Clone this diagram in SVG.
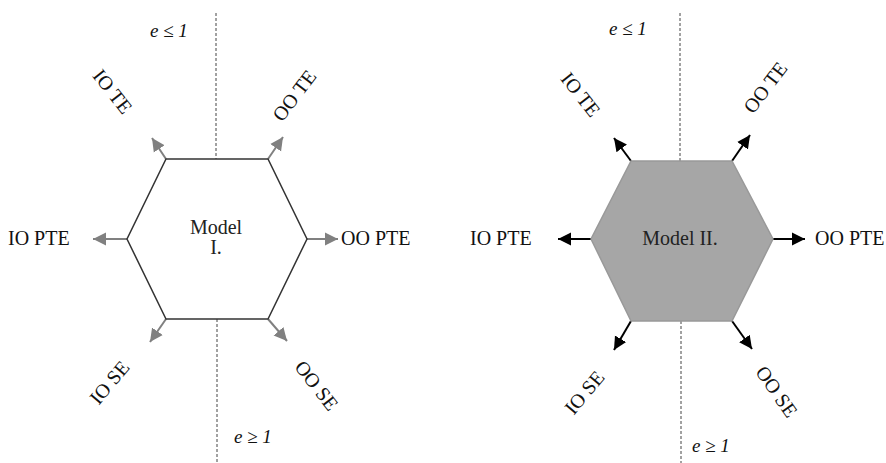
<svg xmlns="http://www.w3.org/2000/svg" width="886" height="463" viewBox="0 0 886 463">
<style>
.t{font-family:"Liberation Serif","Times New Roman",serif;font-size:20px;fill:#111}
.m{font-family:"Liberation Serif","Times New Roman",serif;font-size:20px;fill:#222;text-anchor:middle}
.e{font-family:"Liberation Serif","Times New Roman",serif;font-size:19px;font-style:italic;fill:#111}
.dash{stroke:#444;stroke-width:1;stroke-dasharray:3,2;fill:none}
.ga{stroke:#808080;stroke-width:2;fill:none;marker-end:url(#gh)}
.ba{stroke:#000;stroke-width:2;fill:none;marker-end:url(#bh)}
</style>
<defs>
<marker id="gh" markerUnits="userSpaceOnUse" markerWidth="16" markerHeight="16" viewBox="0 0 16 16" refX="13" refY="8" orient="auto"><path d="M0,1.5 L13,8 L0,14.5 Z" fill="#808080"/></marker>
<marker id="bh" markerUnits="userSpaceOnUse" markerWidth="16" markerHeight="16" viewBox="0 0 16 16" refX="13" refY="8" orient="auto"><path d="M0,1.5 L13,8 L0,14.5 Z" fill="#000"/></marker>
</defs>
<rect width="886" height="463" fill="#fff"/>
<g id="connectors">
<line class="dash" x1="216" y1="13" x2="216" y2="159"/>
<line class="dash" x1="217" y1="319" x2="217" y2="463"/>
<line class="ga" x1="127" y1="239" x2="93" y2="239"/>
<line class="ga" x1="307" y1="239" x2="338" y2="239"/>
<line class="ga" x1="166" y1="159" x2="152" y2="138"/>
<line class="ga" x1="268" y1="159" x2="283" y2="137"/>
<line class="ga" x1="166" y1="319" x2="150" y2="342"/>
<line class="ga" x1="268" y1="319" x2="287" y2="341"/>
<line class="dash" x1="680" y1="13" x2="680" y2="161"/>
<line class="dash" x1="681" y1="321" x2="681" y2="463"/>
<line class="ba" x1="591" y1="239" x2="558" y2="239"/>
<line class="ba" x1="773" y1="239" x2="805" y2="239"/>
<line class="ba" x1="631" y1="161" x2="614" y2="138"/>
<line class="ba" x1="732" y1="161" x2="750" y2="135"/>
<line class="ba" x1="631" y1="321" x2="614" y2="350"/>
<line class="ba" x1="732" y1="321" x2="752" y2="349"/>
</g>
<g id="model1">
<polygon points="166,159 268,159 307,239 268,319 166,319 127,239" fill="#fff" stroke="#333" stroke-width="1.5"/>
<text class="m" x="216" y="234">Model</text>
<text class="m" x="216" y="254">I.</text>
</g>
<g id="model2">
<polygon points="631,161 732,161 773,239 732,321 631,321 591,239" fill="#a6a6a6" stroke="#999" stroke-width="1.5"/>
<text class="m" x="680" y="245">Model II.</text>
</g>
<g id="labels1">
<text class="e" x="150" y="37">e ≤ 1</text>
<text class="e" x="234" y="443">e ≥ 1</text>
<text class="t" x="8" y="245">IO PTE</text>
<text class="t" x="341" y="245">OO PTE</text>
<text class="t" text-anchor="middle" transform="translate(112,92) rotate(52)" y="6">IO TE</text>
<text class="t" text-anchor="middle" transform="translate(295,96) rotate(-53)" y="6">OO TE</text>
<text class="t" text-anchor="middle" transform="translate(110,383) rotate(-50)" y="6">IO SE</text>
<text class="t" text-anchor="middle" transform="translate(316,386) rotate(52)" y="6">OO SE</text>
</g>
<g id="labels2">
<text class="e" x="609" y="35">e ≤ 1</text>
<text class="e" x="692" y="452">e ≥ 1</text>
<text class="t" x="470" y="245">IO PTE</text>
<text class="t" x="815" y="245">OO PTE</text>
<text class="t" text-anchor="middle" transform="translate(580,95) rotate(52)" y="6">IO TE</text>
<text class="t" text-anchor="middle" transform="translate(766,88) rotate(-53)" y="6">OO TE</text>
<text class="t" text-anchor="middle" transform="translate(585,393) rotate(-50)" y="6">IO SE</text>
<text class="t" text-anchor="middle" transform="translate(776,392) rotate(55)" y="6">OO SE</text>
</g>
</svg>
